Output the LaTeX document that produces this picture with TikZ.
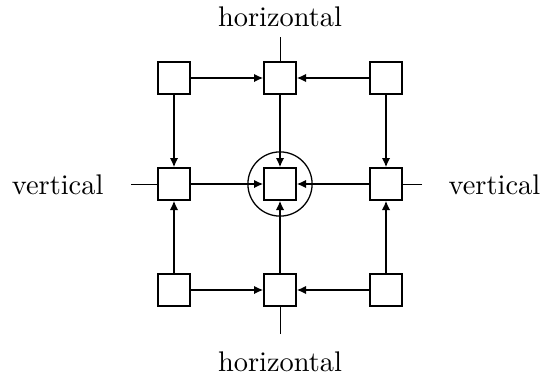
\documentclass[tikz,border=0pt]{standalone}
\usetikzlibrary{arrows.meta}

\begin{document}
\begin{tikzpicture}[x=0.352pt,y=-0.352pt]
  \tikzstyle{B}=[draw,rectangle,line width=0.7pt,minimum size=11pt,inner sep=0pt]
  \tikzstyle{A}=[line width=0.7pt,-{Latex[length=3.3pt,width=3pt]}]
  \tikzstyle{T}=[line width=0.3pt]
  \useasboundingbox (0,0) rectangle (542,377);

  \node[B] (P11) at (174,78) {};
  \node[B] (P12) at (280,78) {};
  \node[B] (P13) at (386,78) {};
  \node[B] (P21) at (174,184) {};
  \node[B] (P22) at (280,184) {};
  \node[B] (P23) at (386,184) {};
  \node[B] (P31) at (174,290) {};
  \node[B] (P32) at (280,290) {};
  \node[B] (P33) at (386,290) {};
  \node[draw,circle,line width=0.45pt,minimum size=22.6pt,inner sep=0pt] (Ring) at (P22) {};

  \draw[A] (P11) -- (P12);
  \draw[A] (P13) -- (P12);
  \draw[A] (P21) -- (P22);
  \draw[A] (P23) -- (P22);
  \draw[A] (P31) -- (P32);
  \draw[A] (P33) -- (P32);
  \draw[A] (P11) -- (P21);
  \draw[A] (P31) -- (P21);
  \draw[A] (P12) -- (P22);
  \draw[A] (P32) -- (P22);
  \draw[A] (P13) -- (P23);
  \draw[A] (P33) -- (P23);

  % stubs and labels
  \coordinate (S1) at (280,37);
  \coordinate (S2) at (280,334);
  \coordinate (S3) at (131,184);
  \coordinate (S4) at (422,184);
  \draw[T] (S1) -- (P12.north);
  \draw[T] (S2) -- (P32.south);
  \draw[T] (S3) -- (P21.west);
  \draw[T] (S4) -- (P23.east);
  \node[anchor=base] (H1) at (280,26) {horizontal};
  \node[anchor=base] (H2) at (280,371) {horizontal};
  \node[anchor=base east,inner xsep=0pt] (V1) at (104,194) {vertical};
  \node[anchor=base west,inner xsep=0pt] (V2) at (448,194) {vertical};
\end{tikzpicture}
\end{document}
